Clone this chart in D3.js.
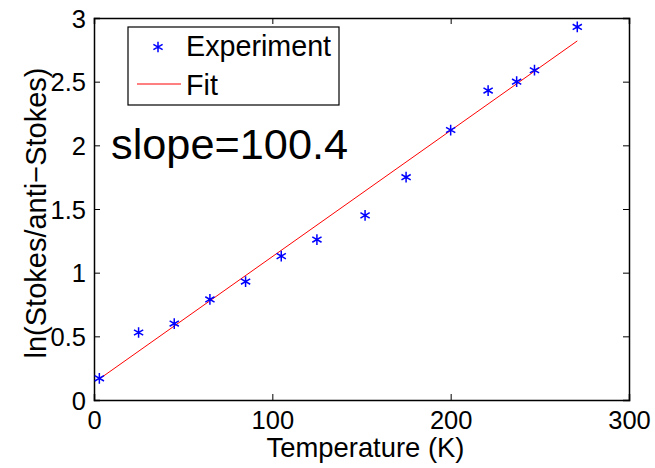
<!DOCTYPE html>
<html>
<head>
<meta charset="utf-8">
<script src="https://cdn.jsdelivr.net/npm/d3@7"></script>
<style>
  body { margin: 0; background: #fff; }
  text { font-family: "Liberation Sans", Arial, Helvetica, sans-serif; fill: #000; }
</style>
</head>
<body>
<div id="chart"></div>
<script>
// Experiment points
const tempK = [3, 25, 45, 65, 85, 105, 125, 152, 175, 200, 221, 237, 247, 271];
const lnRatio = [0.17, 0.53, 0.6, 0.79, 0.93, 1.13, 1.26, 1.45, 1.75, 2.12, 2.43, 2.5, 2.59, 2.93];
// Fit line endpoints
const fitX = [3, 271];
const fitY = [0.165, 2.82];
const xTicks = [0, 100, 200, 300];
const yTicks = [0, 0.5, 1, 1.5, 2, 2.5, 3];
const slopeLabel = "slope=100.4";

function createChart() {
    const W = 655, H = 468;
    const margin = { top: 18, right: 26, bottom: 68, left: 94 };
    const width = W - margin.left - margin.right;
    const height = H - margin.top - margin.bottom;

    const svg = d3.select("#chart").append("svg")
        .attr("width", W)
        .attr("height", H);

    const g = svg.append("g")
        .attr("transform", `translate(${margin.left},${margin.top})`);

    const x = d3.scaleLinear().domain([0, 300]).range([0, width]);
    const y = d3.scaleLinear().domain([0, 3]).range([height, 0]);

    // axes (MATLAB style: ticks inside, mirrored)
    const tickLen = 6;
    const bottom = g.append("g").attr("transform", `translate(0,${height})`)
        .call(d3.axisBottom(x).tickValues(xTicks).tickSize(-tickLen).tickPadding(tickLen + 5).tickFormat(d3.format("d")));
    const left = g.append("g")
        .call(d3.axisLeft(y).tickValues(yTicks).tickSize(-tickLen).tickPadding(tickLen + 2).tickFormat(d => d));
    const top = g.append("g")
        .call(d3.axisTop(x).tickValues(xTicks).tickSize(-tickLen).tickFormat(""));
    const right = g.append("g").attr("transform", `translate(${width},0)`)
        .call(d3.axisRight(y).tickValues(yTicks).tickSize(-tickLen).tickFormat(""));

    [bottom, left, top, right].forEach(a => {
        a.select(".domain").attr("stroke", "#000").attr("stroke-width", 1.5);
        a.selectAll(".tick line").attr("stroke", "#000");
    });
    bottom.selectAll("text").style("font-size", "25.5px").attr("fill", "#000");
    left.selectAll("text").style("font-size", "25.5px").attr("fill", "#000").attr("dy", "0.36em");

    // axis titles
    g.append("text")
        .attr("x", width / 2 + 4)
        .attr("y", height + 57)
        .attr("text-anchor", "middle")
        .style("font-size", "27.4px")
        .text("Temperature (K)");

    g.append("text")
        .attr("transform", `translate(${-margin.left + 46},${height / 2 + 4}) rotate(-90)`)
        .attr("text-anchor", "middle")
        .style("font-size", "29px")
        .text("ln(Stokes/anti\u2212Stokes)");

    // fit line
    const line = d3.line().x(d => x(d[0])).y(d => y(d[1]));
    g.append("path")
        .datum(d3.zip(fitX, fitY))
        .attr("d", line)
        .attr("fill", "none")
        .attr("stroke", "#ff0000")
        .attr("stroke-width", 1);

    // experiment markers
    const star = d3.symbol().type(d3.symbolAsterisk).size(80);
    g.selectAll(".pt")
        .data(d3.zip(tempK, lnRatio))
        .enter().append("path")
        .attr("class", "pt")
        .attr("transform", d => `translate(${x(d[0])},${y(d[1])})`)
        .attr("d", star)
        .attr("fill", "none")
        .attr("stroke", "#0000ff")
        .attr("stroke-width", 1.5);

    // slope annotation
    svg.append("text")
        .attr("x", 111)
        .attr("y", 159)
        .style("font-size", "43.3px")
        .text(slopeLabel);

    // legend
    const legend = svg.append("g").attr("transform", "translate(128,27)");
    legend.append("rect")
        .attr("width", 211).attr("height", 78)
        .attr("fill", "#fff").attr("stroke", "#000").attr("stroke-width", 1.2);
    legend.append("path")
        .attr("transform", "translate(30,20)")
        .attr("d", star)
        .attr("fill", "none")
        .attr("stroke", "#0000ff")
        .attr("stroke-width", 1.5);
    legend.append("line")
        .attr("x1", 9).attr("x2", 53).attr("y1", 57).attr("y2", 57)
        .attr("stroke", "#ff0000").attr("stroke-width", 1);
    legend.append("text").attr("x", 58).attr("y", 29).style("font-size", "28.7px").text("Experiment");
    legend.append("text").attr("x", 58).attr("y", 68).style("font-size", "28.7px").text("Fit");
}

createChart();
</script>
</body>
</html>
